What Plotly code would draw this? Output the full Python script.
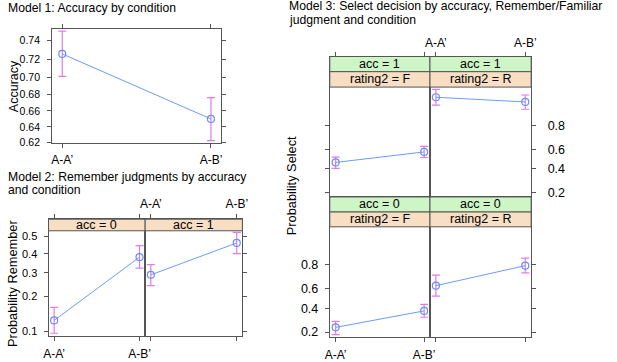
import numpy as np
import plotly.graph_objects as go

W, H = 617, 362

# ---------------- data ----------------
conditions = ["A-A\u2019", "A-B\u2019"]

# Model 1: accuracy by condition
m1_p = [0.726, 0.650]
m1_lo = [0.701, 0.6225]
m1_hi = [0.750, 0.676]

# Model 2: remember judgments by accuracy and condition
m2_acc0_p = [0.125, 0.382]
m2_acc0_lo = [0.096, 0.324]
m2_acc0_hi = [0.162, 0.447]
m2_acc1_p = [0.291, 0.462]
m2_acc1_lo = [0.242, 0.401]
m2_acc1_hi = [0.342, 0.523]

# Model 3: select decision by accuracy, rating and condition
m3_a1F_p = [0.465, 0.573]
m3_a1F_lo = [0.405, 0.516]
m3_a1F_hi = [0.520, 0.629]
m3_a1R_p = [0.928, 0.914]
m3_a1R_lo = [0.903, 0.887]
m3_a1R_hi = [0.947, 0.934]
m3_a0F_p = [0.233, 0.374]
m3_a0F_lo = [0.184, 0.315]
m3_a0F_hi = [0.279, 0.438]
m3_a0R_p = [0.627, 0.793]
m3_a0R_lo = [0.523, 0.740]
m3_a0R_hi = [0.722, 0.839]

m1_ticks = [0.62, 0.64, 0.66, 0.68, 0.70, 0.72, 0.74]
m1_ticktext = ["0.62", "0.64", "0.66", "0.68", "0.70", "0.72", "0.74"]
m2_ticks = [0.1, 0.2, 0.3, 0.4, 0.5]
m2_ticktext = ["0.1", "0.2", "0.3", "0.4", "0.5"]
m3_ticks = [0.2, 0.4, 0.6, 0.8]
m3_ticktext = ["0.2", "0.4", "0.6", "0.8"]

# ---------------- style ----------------
LINE_C = "#6f9cf5"
MARK_C = "#6a8ff0"
ERR_C = "#e27be8"
AX_C = "#555555"
GREEN = "#cdf5c6"
PEACH = "#f8dec2"
FONT = "Liberation Sans"


def logit(p):
    p = np.asarray(p, float)
    return np.log(p / (1 - p))


def fx(x):
    return x / W


def fy(y):
    return 1 - y / H


fig = go.Figure()
layout = {}
XR = [-0.066, 1.066]


def add_series(i, p, lo, hi):
    y = logit(p)
    fig.add_trace(go.Scatter(
        x=conditions, y=y, mode="lines+markers",
        line=dict(color=LINE_C, width=1),
        marker=dict(symbol="circle-open", size=7, color=MARK_C, line=dict(width=1.2)),
        error_y=dict(type="data", symmetric=False,
                     array=logit(hi) - y, arrayminus=y - logit(lo),
                     color=ERR_C, thickness=1.2, width=4),
        xaxis=f"x{i}", yaxis=f"y{i}", showlegend=False, hoverinfo="skip"))


def axes(i, xdom, ydom, yrange, ticks, ticktext, xside, xlabels, xmirror,
         yside, ylabels, ymirror, tfs, xfs, xr=XR, ystand=4, xstand=0):
    common = dict(showgrid=False, zeroline=False, showline=True, linecolor=AX_C,
                  linewidth=1, ticks="outside", ticklen=4, tickcolor=AX_C,
                  tickwidth=1, fixedrange=True)
    layout[f"xaxis{i}"] = dict(common, domain=[fx(xdom[0]), fx(xdom[1])],
                               anchor=f"y{i}", type="category", range=xr,
                               side=xside, showticklabels=xlabels, mirror=xmirror,
                               ticklabelstandoff=xstand,
                               tickfont=dict(family=FONT, size=xfs, color="black"))
    layout[f"yaxis{i}"] = dict(common, domain=[fy(ydom[1]), fy(ydom[0])],
                               anchor=f"x{i}", range=yrange,
                               tickvals=list(logit(ticks)), ticktext=ticktext,
                               side=yside, showticklabels=ylabels, mirror=ymirror,
                               ticklabelstandoff=ystand,
                               tickfont=dict(family=FONT, size=tfs, color="black"))


# Model 1
axes(1, (48, 220), (29.3, 145.3), [0.486, 1.111], m1_ticks, m1_ticktext,
     "bottom", True, "ticks", "left", True, "ticks", 10.5, 12, xr=[-0.068, 1.068],
     ystand=5, xstand=1)
add_series(1, m1_p, m1_lo, m1_hi)

# Model 2
m2_y = (222.3, 340.7)
m2_r = [-2.306, 0.397]
axes(2, (44.3, 142.7), m2_y, m2_r, m2_ticks, m2_ticktext,
     "bottom", True, "ticks", "left", True, True, 11, 12, xstand=3)
axes(3, (142.7, 241.7), m2_y, m2_r, m2_ticks, m2_ticktext,
     "top", True, "ticks", "right", False, True, 11, 12, xstand=1)
add_series(2, m2_acc0_p, m2_acc0_lo, m2_acc0_hi)
add_series(3, m2_acc1_p, m2_acc1_lo, m2_acc1_hi)

# Model 3
c1 = (330.7, 432.7)
c2 = (432.7, 535.7)
r1 = (57.3, 199.7)
r2 = (199.7, 341.7)
r1_r = [-1.569, 4.243]
r2_r = [-1.586, 4.163]
axes(4, c1, r1, r1_r, m3_ticks, m3_ticktext, "top", False, True, "left", False, True, 12.5, 12)
axes(5, c2, r1, r1_r, m3_ticks, m3_ticktext, "top", True, True, "right", True, True, 12.5, 12,
     ystand=9)
axes(6, c1, r2, r2_r, m3_ticks, m3_ticktext, "bottom", True, True, "left", True, True, 12.5, 12,
     xstand=3)
axes(7, c2, r2, r2_r, m3_ticks, m3_ticktext, "bottom", False, True, "right", False, True, 12.5, 12)
add_series(4, m3_a1F_p, m3_a1F_lo, m3_a1F_hi)
add_series(5, m3_a1R_p, m3_a1R_lo, m3_a1R_hi)
add_series(6, m3_a0F_p, m3_a0F_lo, m3_a0F_hi)
add_series(7, m3_a0R_p, m3_a0R_lo, m3_a0R_hi)

shapes = []
annotations = []


def strip(x0, x1, y0, y1, color, text):
    shapes.append(dict(type="rect", xref="paper", yref="paper",
                       x0=fx(x0), x1=fx(x1), y0=fy(y1), y1=fy(y0),
                       fillcolor=color, line=dict(color=AX_C, width=1), layer="above"))
    annotations.append(dict(text=text, xref="paper", yref="paper",
                            x=fx((x0 + x1) / 2), y=fy((y0 + y1) / 2),
                            xanchor="center", yanchor="middle", showarrow=False,
                            font=dict(family=FONT, size=12.5, color="black")))


strip(44.3, 142.7, 222.3, 234, PEACH, "acc = 0")
strip(142.7, 241.7, 222.3, 234, PEACH, "acc = 1")
strip(*c1, 57.3, 72.7, GREEN, "acc = 1")
strip(*c1, 72.7, 88.3, PEACH, "rating2 = F")
strip(*c2, 57.3, 72.7, GREEN, "acc = 1")
strip(*c2, 72.7, 88.3, PEACH, "rating2 = R")
strip(*c1, 199.7, 215, GREEN, "acc = 0")
strip(*c1, 215, 230, PEACH, "rating2 = F")
strip(*c2, 199.7, 215, GREEN, "acc = 0")
strip(*c2, 215, 230, PEACH, "rating2 = R")


def text(t, x, y, size=12.2, angle=0, xanchor="left"):
    annotations.append(dict(text=t, xref="paper", yref="paper", x=fx(x), y=fy(y),
                            xanchor=xanchor, yanchor="middle", showarrow=False,
                            textangle=angle,
                            font=dict(family=FONT, size=size, color="black")))


text("Model 1: Accuracy by condition", 1, 8.5)
text("Model 2: Remember judgments by accuracy", 1, 179)
text("and condition", 1, 193)
text("Model 3: Select decision by accuracy, Remember/Familiar", 287, 6)
text("judgment and condition", 287, 20.5)
text("Accuracy", 8.5, 87, size=12.5, angle=-90, xanchor="center")
text("Probability Remember", 7, 287, size=12.8, angle=-90, xanchor="center")
text("Probability Select", 292, 188, size=12.8, angle=-90, xanchor="center")

layout.update(dict(width=W, height=H, margin=dict(l=0, r=0, t=0, b=0),
                   paper_bgcolor="white", plot_bgcolor="white",
                   shapes=shapes, annotations=annotations,
                   font=dict(family=FONT, color="black")))
fig.update_layout(**layout)
fig.write_html("out.html", config={"displayModeBar": False},
               post_script="document.body.style.margin='0';document.body.style.padding='0';")
